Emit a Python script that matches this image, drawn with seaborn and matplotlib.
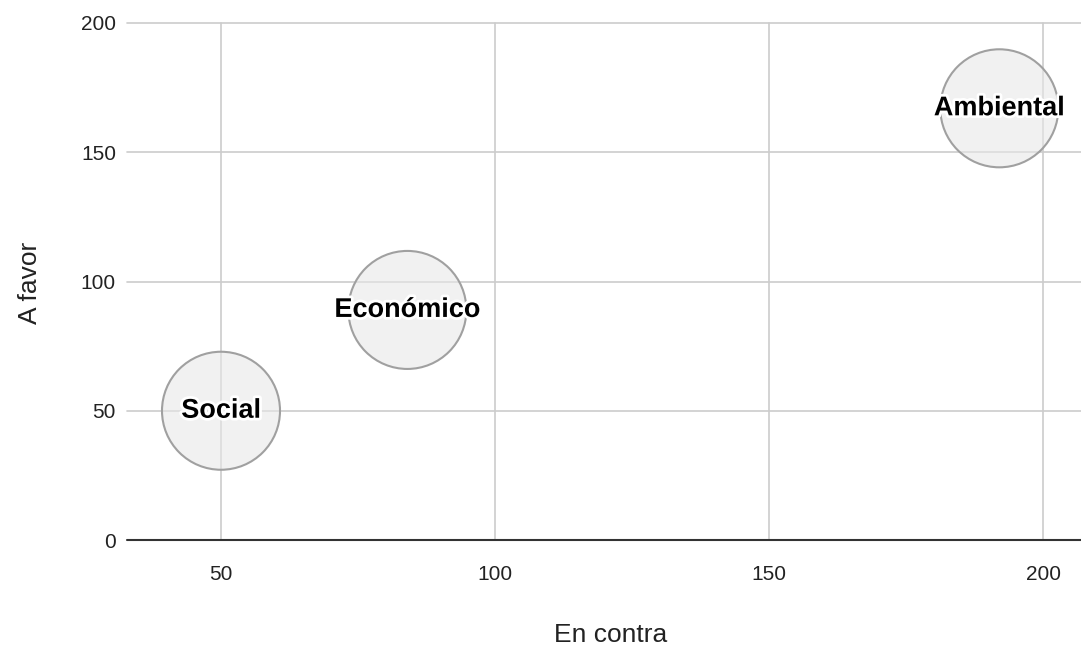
import matplotlib
matplotlib.use("Agg")
import matplotlib.pyplot as plt
import matplotlib.patheffects as pe
import seaborn as sns
import pandas as pd

categories = ["Social", "Económico", "Ambiental"]
en_contra = [50, 84, 192]
a_favor = [50, 89, 167]
x_ticks = [50, 100, 150, 200]
y_ticks = [0, 50, 100, 150, 200]

df = pd.DataFrame({"cat": categories, "x": en_contra, "y": a_favor})

sns.set_theme(style="white")
plt.rcParams["font.family"] = ["Liberation Sans", "DejaVu Sans"]

W, H = 1081, 645
fig = plt.figure(figsize=(W / 100, H / 100), dpi=100)
ax = fig.add_axes([127 / W, 1 - 540 / H, 1 - 127 / W, (540 - 23) / H])

ax.set_xlim(32.85, 206.9)
ax.set_ylim(0, 200)

for v in x_ticks:
    ax.axvline(v, color="#cccccc", lw=1.2, zorder=0, clip_on=False)
for v in y_ticks[1:]:
    ax.axhline(v, color="#cccccc", lw=1.2, zorder=0, clip_on=False)
ax.axhline(0, color="#333333", lw=1.5, zorder=1, clip_on=False)

sns.scatterplot(data=df, x="x", y="y", s=7220, color="#e8e8e8", alpha=0.6,
                edgecolor="none", linewidth=0, ax=ax, zorder=2, legend=False)
ax.scatter(df["x"], df["y"], s=7220, facecolor="none", edgecolor="#a0a0a0",
           linewidth=1.5, zorder=3)

for c, xv, yv in zip(categories, en_contra, a_favor):
    ax.text(xv, yv, c, ha="center", va="center", fontsize=19.5, fontweight="bold",
            color="black", zorder=5,
            path_effects=[pe.withStroke(linewidth=4, foreground="white")])

for s in ax.spines.values():
    s.set_visible(False)

ax.set_xlabel("")
ax.set_ylabel("")
ax.set_xticks(x_ticks)
ax.set_yticks(y_ticks)
ax.tick_params(axis="both", length=0, labelsize=15, colors="#222222")
ax.tick_params(axis="x", pad=18)
ax.tick_params(axis="y", pad=8)

fig.text(611 / W, 1 - 635 / H, "En contra", ha="center", va="center",
         fontsize=19, color="#222222")
fig.text(30 / W, 1 - 283 / H, "A favor", ha="center", va="center",
         fontsize=19, color="#222222", rotation=90)

fig.savefig("out.png", dpi=100, facecolor="white")
